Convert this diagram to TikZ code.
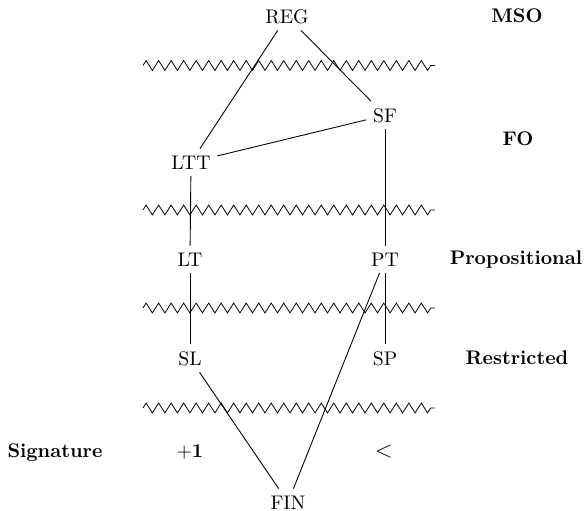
\documentclass[tikz,border=0pt]{standalone}
\usetikzlibrary{decorations.pathmorphing}

\begin{document}
\begin{tikzpicture}[x=0.5076pt, y=-0.5076pt,
  cls/.style={inner sep=3.33pt},
  lvl/.style={font=\bfseries, anchor=base},
  sep/.style={decorate, decoration={zigzag, amplitude=2.5pt, segment length=6.35pt}},
  link/.style={line width=0.45pt}]
  \useasboundingbox (0,0) rectangle (587,511);

  % language classes
  \node[cls] (REG) at (287,16.3) {REG};
  \node[cls] (SF)  at (385,115.3) {SF};
  \node[cls] (LTT) at (191,162.3) {LTT};
  \node[cls] (LT)  at (190,259.3) {LT};
  \node[cls] (PT)  at (385,259.3) {PT};
  \node[cls] (SL)  at (190,358.3) {SL};
  \node[cls] (SP)  at (385,358.3) {SP};
  \node[cls] (FIN) at (288,502.3) {FIN};

  % logic levels
  \node[lvl] (mso)  at (517,23) {MSO};
  \node[lvl] (fo)   at (518,146) {FO};
  \node[lvl] (prop) at (516,265) {Propositional};
  \node[lvl] (rest) at (517,365) {Restricted};

  % signature row
  \node[lvl] (sig)  at (55,458) {Signature};
  \node[lvl] (succ) at (190,458) {$\mathbf{+1}$};
  \node[anchor=base, font=\large] (prec) at (384,458) {$<$};

  % level separators
  \coordinate (s1a) at (143,65.5);  \coordinate (s1b) at (435,65.5);
  \coordinate (s2a) at (143,210);   \coordinate (s2b) at (435,210);
  \coordinate (s3a) at (143,308);   \coordinate (s3b) at (435,308);
  \coordinate (s4a) at (143,408);   \coordinate (s4b) at (435,408);
  \draw[sep] (s1a) -- (s1b);
  \draw[sep] (s2a) -- (s2b);
  \draw[sep] (s3a) -- (s3b);
  \draw[sep] (s4a) -- (s4b);

  % inclusions
  \draw[link] (REG) -- (LTT);
  \draw[link] (REG) -- (SF);
  \draw[link] (SF) -- (LTT);
  \draw[link] (SF) -- (PT);
  \draw[link] (LTT) -- (LT);
  \draw[link] (LT) -- (SL);
  \draw[link] (PT) -- (SP);
  \draw[link] (PT) -- (FIN);
  \draw[link] (SL) -- (FIN);
\end{tikzpicture}
\end{document}
